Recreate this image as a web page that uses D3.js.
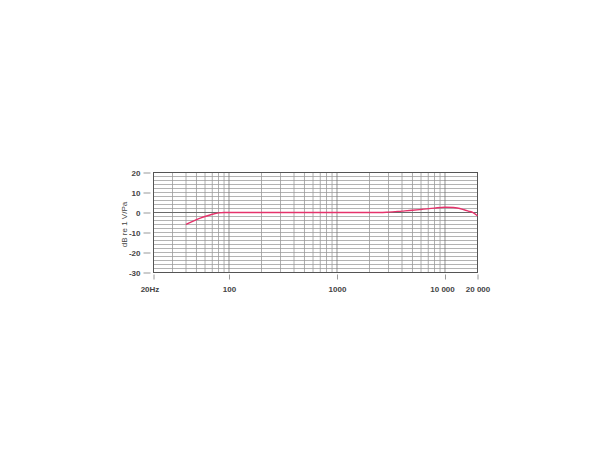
<!DOCTYPE html>
<html>
<head>
<meta charset="utf-8">
<script src="https://cdn.jsdelivr.net/npm/d3@7"></script>
<style>
  html, body { margin: 0; padding: 0; background: #fff; }
  text { font-family: "Liberation Sans", Arial, sans-serif; }
</style>
</head>
<body>
<svg id="chart"></svg>
<script>
// frequency response (Hz -> dB re 1 V/Pa)
const freqs    = [40, 45, 50, 55, 60, 70, 80, 90, 100, 1000, 2500, 3000, 4000, 5000, 6000, 8000, 10000, 12000, 15000, 17000, 18000, 20000];
const response = [-6, -4.7, -3.6, -2.7, -2, -0.9, -0.2, 0, 0, 0, 0, 0.2, 0.7, 1.1, 1.5, 2.2, 2.6, 2.5, 1.4, 0.5, 0.1, -1.6];

const xTicks = [20, 100, 1000, 10000, 20000];
const xTickLabels = ["20Hz", "100", "1000", "10 000", "20 000"];
const yTicks = [-30, -20, -10, 0, 10, 20];
const yTitle = "dB re 1 V/Pa";

const w = 610, h = 450;
const svg = d3.select("#chart").attr("width", w).attr("height", h);

const xScale = d3.scaleLog()
  .domain([20, 20000])
  .range([153.5, 477.5]);

const yScale = d3.scaleLinear()
  .domain([-30, 20])
  .range([272.5, 172.5]);

// grid: horizontal every 2 dB
const hLines = d3.range(-30, 21, 2);
svg.append("g")
  .selectAll("line")
  .data(hLines)
  .enter()
  .append("line")
  .attr("x1", xScale(20))
  .attr("x2", xScale(20000))
  .attr("y1", d => yScale(d))
  .attr("y2", d => yScale(d))
  .attr("stroke", "#a0a0a0")
  .attr("stroke-width", 0.8);

// grid: vertical log lines
const vLines = [];
[10, 100, 1000, 10000].forEach(dec => {
  for (let k = 1; k <= 9; k++) {
    const f = dec * k;
    if (f > 20 && f < 20000) vLines.push(f);
  }
});
svg.append("g")
  .selectAll("line")
  .data(vLines)
  .enter()
  .append("line")
  .attr("x1", d => xScale(d))
  .attr("x2", d => xScale(d))
  .attr("y1", yScale(20))
  .attr("y2", yScale(-30))
  .attr("stroke", d => [100, 1000, 10000].includes(d) ? "#777" : "#999")
  .attr("stroke-width", 0.8);

// 0 dB reference
svg.append("line")
  .attr("x1", xScale(20))
  .attr("x2", xScale(20000))
  .attr("y1", yScale(0))
  .attr("y2", yScale(0))
  .attr("stroke", "#6a6a6a")
  .attr("stroke-width", 1.2);

// frame
svg.append("rect")
  .attr("x", xScale(20))
  .attr("y", yScale(20))
  .attr("width", xScale(20000) - xScale(20))
  .attr("height", yScale(-30) - yScale(20))
  .attr("fill", "none")
  .attr("stroke", "#555")
  .attr("stroke-width", 1);

// Y axis
const yAxis = d3.axisLeft(yScale)
  .tickValues(yTicks)
  .tickFormat(d => String(d))
  .tickSize(7)
  .tickPadding(3);

const gy = svg.append("g")
  .attr("transform", `translate(${xScale(20) - 3},0)`)
  .call(yAxis);
gy.select(".domain").remove();
gy.selectAll(".tick line").attr("stroke", "#999");
gy.selectAll(".tick text")
  .attr("fill", "#444")
  .style("font-size", "8px")
  .style("font-weight", "bold");

// X axis
const xAxis = d3.axisBottom(xScale)
  .tickValues(xTicks)
  .tickFormat((d, i) => xTickLabels[i])
  .tickSize(5)
  .tickPadding(7);

const gx = svg.append("g")
  .attr("transform", `translate(0,${yScale(-30) + 2})`)
  .call(xAxis);
gx.select(".domain").remove();
gx.selectAll(".tick line").attr("stroke", "#999");
gx.selectAll(".tick text")
  .attr("fill", "#444")
  .style("font-size", "8px")
  .style("font-weight", "bold");
gx.selectAll(".tick text").filter((d, i) => i === 0).attr("dx", -4);
gx.selectAll(".tick text").filter((d, i) => i === 3).attr("dx", -3);

// axis title
svg.append("text")
  .attr("transform", `translate(127,${yScale(-6)}) rotate(-90)`)
  .attr("text-anchor", "middle")
  .attr("fill", "#444")
  .style("font-size", "8px")
  .text(yTitle);

// response curve
const line = d3.line()
  .x((d, i) => xScale(freqs[i]))
  .y(d => yScale(d))
  .curve(d3.curveMonotoneX);

svg.append("path")
  .datum(response)
  .attr("d", line)
  .attr("fill", "none")
  .attr("stroke", "#e5336b")
  .attr("stroke-width", 1.4);
</script>
</body>
</html>
